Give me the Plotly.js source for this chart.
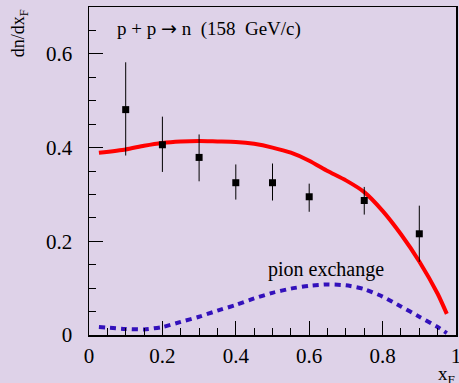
<!DOCTYPE html>
<html><head><meta charset="utf-8">
<script src="https://cdn.plot.ly/plotly-3.0.1.min.js"></script>
<style>body{margin:0;background:#ded2e8}</style>
</head><body><div id="chart" style="width:459px;height:383px"></div>
<script>
const dataX = [0.1, 0.2, 0.3, 0.4, 0.5, 0.6, 0.75, 0.9];
const dataY = [0.481, 0.406, 0.379, 0.325, 0.325, 0.295, 0.287, 0.216];
const errUp = [0.101, 0.060, 0.049, 0.039, 0.041, 0.028, 0.029, 0.060];
const errDown = [0.098, 0.058, 0.051, 0.036, 0.038, 0.032, 0.030, 0.060];

const modelX = [0.027, 0.1, 0.15, 0.2, 0.25, 0.3, 0.35, 0.4, 0.45, 0.5, 0.55, 0.6, 0.65, 0.7, 0.75, 0.8, 0.85, 0.9, 0.95, 0.975];
const modelY = [0.389, 0.396, 0.404, 0.410, 0.413, 0.414, 0.413, 0.412, 0.408, 0.400, 0.389, 0.372, 0.350, 0.330, 0.305, 0.265, 0.215, 0.157, 0.088, 0.045];

const pionX = [0.027, 0.1, 0.15, 0.2, 0.25, 0.3, 0.35, 0.4, 0.45, 0.5, 0.55, 0.6, 0.65, 0.7, 0.75, 0.8, 0.85, 0.9, 0.95, 0.975];
const pionY = [0.017, 0.013, 0.012, 0.017, 0.028, 0.039, 0.052, 0.064, 0.078, 0.090, 0.099, 0.105, 0.108, 0.106, 0.098, 0.082, 0.061, 0.039, 0.017, 0.004];

const xTicks = [0, 0.2, 0.4, 0.6, 0.8, 1];
const xTickText = ['0', '0.2', '0.4', '0.6', '0.8', '1'];
const yTicks = [0, 0.2, 0.4, 0.6];
const yTickText = ['0', '0.2', '0.4', '0.6'];

const bg = '#ded2e8';
const serif = '"Liberation Serif", "DejaVu Serif", serif';

const traces = [
  {x: modelX, y: modelY, mode: 'lines', line: {color: '#ff0000', width: 4, shape: 'spline', smoothing: 0.6}, hoverinfo: 'skip'},
  {x: pionX, y: pionY, mode: 'lines', line: {color: '#3311bb', width: 4, dash: '6px,5px', shape: 'spline', smoothing: 0.6}, hoverinfo: 'skip'},
  {x: dataX, y: dataY, mode: 'markers', marker: {symbol: 'square', size: 7, color: '#000'},
   error_y: {type: 'data', symmetric: false, array: errUp, arrayminus: errDown, color: '#000', thickness: 1, width: 0}}
];

const layout = {
  width: 459, height: 383,
  margin: {l: 89, r: 3, t: 7, b: 48},
  paper_bgcolor: bg, plot_bgcolor: bg,
  showlegend: false,
  font: {family: serif, size: 19, color: '#000'},
  xaxis: {range: [0, 1], showgrid: false, zeroline: false, showline: true, linecolor: '#000', linewidth: 1.5, mirror: true,
    ticks: 'inside', ticklen: 14, tickcolor: '#000', tickwidth: 1, tickmode: 'array', tickvals: xTicks, ticktext: xTickText, ticklabelstandoff: 1,
    ticklabeloverflow: 'allow',
    tickfont: {family: serif, size: 21},
    minor: {tickmode: 'linear', tick0: 0, dtick: 0.05, ticks: 'inside', ticklen: 7, tickcolor: '#000', showgrid: false}},
  yaxis: {range: [0, 0.70], showgrid: false, zeroline: false, showline: true, linecolor: '#000', linewidth: 1.5, mirror: true,
    ticks: 'inside', ticklen: 14, tickcolor: '#000', tickwidth: 1, tickmode: 'array', tickvals: yTicks, ticktext: yTickText, ticklabelstandoff: 11,
    ticklabeloverflow: 'allow',
    tickfont: {family: serif, size: 21},
    minor: {tickmode: 'linear', tick0: 0, dtick: 0.05, ticks: 'inside', ticklen: 7, tickcolor: '#000', showgrid: false}},
  annotations: [
    {text: 'p + p <span style="font-family:DejaVu Sans">\u2192</span> n\u00a0\u00a0(158\u00a0\u00a0GeV/c)', xref: 'paper', yref: 'paper', x: 0.072, y: 0.935, xanchor: 'left', yanchor: 'middle', showarrow: false, font: {family: serif, size: 19}},
    {text: 'pion exchange', xref: 'x', yref: 'y', x: 0.645, y: 0.139, xanchor: 'center', yanchor: 'middle', showarrow: false, font: {family: serif, size: 20}},
    {text: 'dn/dx<sub>F</sub>', xref: 'paper', yref: 'paper', x: -0.19, y: 1.0, xanchor: 'center', yanchor: 'top', textangle: -90, showarrow: false, font: {family: serif, size: 18}},
    {text: 'x<sub>F</sub>', xref: 'paper', yref: 'paper', x: 0.975, y: -0.08, xanchor: 'center', yanchor: 'top', showarrow: false, font: {family: serif, size: 19}}
  ]
};

Plotly.newPlot('chart', traces, layout, {displayModeBar: false, staticPlot: true});
</script></body></html>
